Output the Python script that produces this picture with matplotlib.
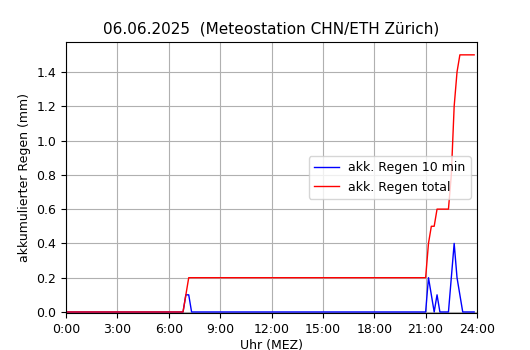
import matplotlib
matplotlib.use("Agg")
import matplotlib.pyplot as plt

# rain per 10 minutes (only the points where the curve changes)
times_10min = ["0:00", "6:50", "7:00", "7:10", "7:20", "21:00", "21:10", "21:20",
               "21:30", "21:40", "21:50", "22:20", "22:30", "22:40", "22:50",
               "23:00", "23:10", "23:50"]
rain_10min = [0.0, 0.0, 0.1, 0.1, 0.0, 0.0, 0.2, 0.1,
              0.0, 0.1, 0.0, 0.0, 0.2, 0.4, 0.2,
              0.1, 0.0, 0.0]

# accumulated rain of the day
times_total = ["0:00", "6:50", "7:00", "7:10", "21:00", "21:10", "21:20", "21:30",
               "21:40", "22:20", "22:30", "22:40", "22:50", "23:00", "23:50"]
rain_total = [0.0, 0.0, 0.1, 0.2, 0.2, 0.4, 0.5, 0.5,
              0.6, 0.6, 0.8, 1.2, 1.4, 1.5, 1.5]

tick_hours = [0, 3, 6, 9, 12, 15, 18, 21, 24]
tick_labels = ["0:00", "3:00", "6:00", "9:00", "12:00", "15:00", "18:00", "21:00", "24:00"]


def to_hours(t):
    h, m = t.split(":")
    return int(h) + int(m) / 60.0


x_10 = [to_hours(t) for t in times_10min]
x_tot = [to_hours(t) for t in times_total]

plt.rcParams["font.size"] = 9

fig = plt.figure(figsize=(5.3, 3.5), dpi=100)
ax = fig.add_axes([66 / 530, 1 - 313 / 350, 411 / 530, 271 / 350])
ax.plot(x_10, rain_10min, color="b", linewidth=1, label="akk. Regen 10 min")
ax.plot(x_tot, rain_total, color="r", linewidth=1, label="akk. Regen total")

ax.set_xlim(0, 24)
ax.set_ylim(-0.006, 1.575)
ax.set_xticks(tick_hours)
ax.set_xticklabels(tick_labels)
ax.grid(True, color="#b0b0b0")
ax.set_axisbelow(True)
ax.set_xlabel("Uhr (MEZ)", labelpad=2)
ax.set_ylabel("akkumulierter Regen (mm)")
ax.set_title("06.06.2025  (Meteostation CHN/ETH Zürich)", fontsize=11, pad=6)
ax.legend(loc="center right")

fig.savefig("out.png", dpi=100)
